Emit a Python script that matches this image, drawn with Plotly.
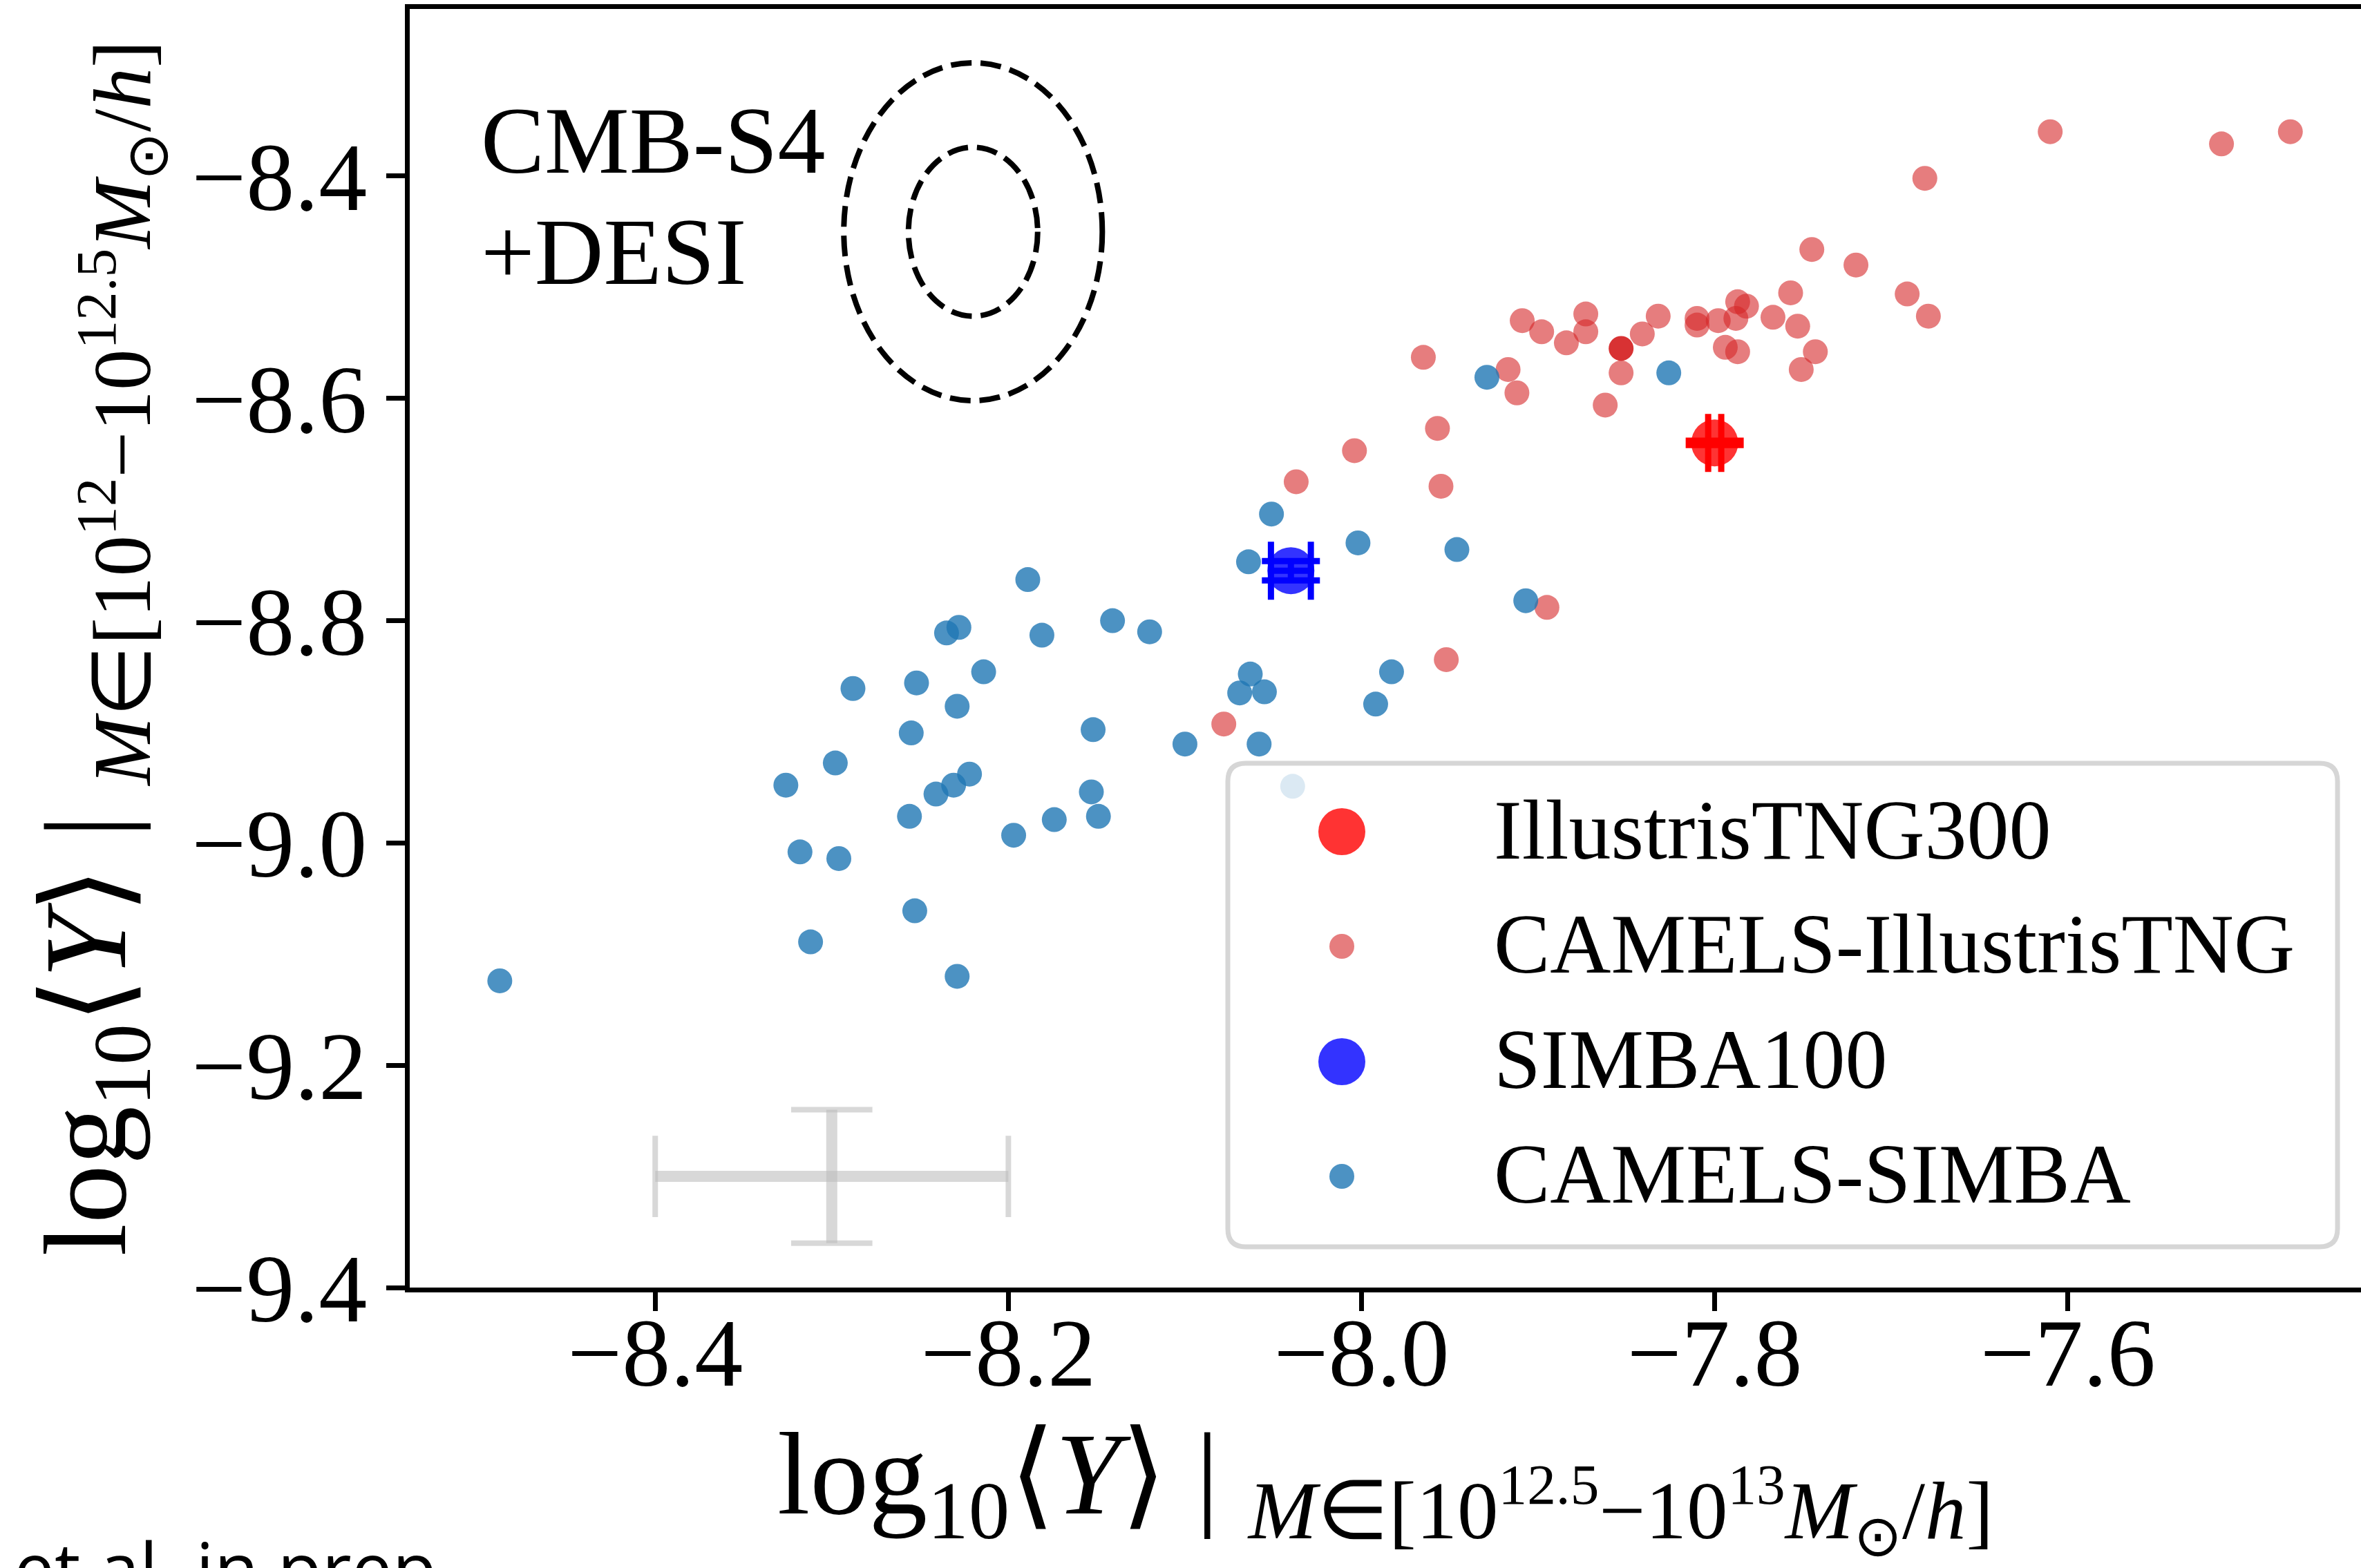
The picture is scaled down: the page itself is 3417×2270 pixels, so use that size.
import plotly.graph_objects as go

# ---------------------------------------------------------------------------
# Data
# ---------------------------------------------------------------------------
series_names = ["IllustrisTNG300", "CAMELS-IllustrisTNG", "SIMBA100", "CAMELS-SIMBA"]

# Large-box reference simulations (value, error)
tng300_x = [-7.800]
tng300_y = [-8.640]
tng300_xerr = [0.0037]
tng300_yerr = [0.002]

simba100_x = [-8.040]
simba100_y = [-8.755]
simba100_xerr = [0.0113]
simba100_yerr = [0.0087]

# CAMELS-IllustrisTNG boxes
camels_tng_x = [-7.965, -7.909, -7.898, -7.884, -7.873, -7.873, -7.841, -7.832, -7.853, -7.862,
                -7.810, -7.810, -7.798, -7.788, -7.787, -7.782, -7.767, -7.757, -7.753, -7.743,
                -7.751, -7.794, -7.787, -7.917, -7.912, -7.957, -8.004, -8.037, -7.955, -7.895,
                -7.952, -8.078, -7.610, -7.513, -7.474, -7.681, -7.745, -7.720, -7.691, -7.679]
camels_tng_y = [-8.563, -8.530, -8.540, -8.550, -8.524, -8.540, -8.542, -8.526, -8.577, -8.606,
                -8.528, -8.534, -8.530, -8.528, -8.513, -8.517, -8.527, -8.505, -8.535, -8.558,
                -8.574, -8.554, -8.558, -8.574, -8.595, -8.627, -8.647, -8.675, -8.679, -8.788,
                -8.835, -8.893, -8.360, -8.371, -8.360, -8.402, -8.466, -8.480, -8.506, -8.526]
# CAMELS-IllustrisTNG fiducial box
camels_tng_fid_x = [-7.853]
camels_tng_fid_y = [-8.555]

# CAMELS-SIMBA boxes
camels_simba_x = [-8.189, -8.235, -8.228, -8.181, -8.141, -8.120, -8.214, -8.288, -8.252, -8.229,
                  -8.255, -8.152, -8.298, -8.326, -8.222, -8.231, -8.241, -8.256, -8.153, -8.174,
                  -8.149, -8.197, -8.318, -8.296, -8.253, -8.312, -8.229, -8.488, -7.929, -7.826,
                  -8.051, -8.064, -8.002, -7.946, -7.907, -8.063, -8.069, -8.055, -7.983, -7.992,
                  -8.100, -8.058, -8.039]
camels_simba_y = [-8.763, -8.811, -8.806, -8.813, -8.800, -8.810, -8.846, -8.861, -8.856, -8.877,
                  -8.901, -8.898, -8.928, -8.948, -8.938, -8.948, -8.956, -8.976, -8.954, -8.979,
                  -8.976, -8.993, -9.008, -9.014, -9.061, -9.089, -9.120, -9.124, -8.581, -8.577,
                  -8.704, -8.747, -8.730, -8.736, -8.782, -8.848, -8.865, -8.864, -8.846, -8.875,
                  -8.911, -8.911, -8.949]

# Typical measurement error
noise_x = [-8.30]
noise_y = [-9.30]
noise_xerr = [0.10]
noise_yerr = [0.06]

# CMB-S4 + DESI forecast ellipse (centre, 1-sigma widths, contour levels)
forecast_center = [-8.22, -8.45]
forecast_sigma = [0.0366, 0.0760]
forecast_levels = [1, 2]

x_ticks = [-8.4, -8.2, -8.0, -7.8, -7.6]
y_ticks = [-9.4, -9.2, -9.0, -8.8, -8.6, -8.4]
x_range = [-8.539, -7.434]
y_range = [-9.4, -8.2496]

# ---------------------------------------------------------------------------
# Styling
# ---------------------------------------------------------------------------
SERIF = "Liberation Serif"
TAB_RED = "rgba(214,39,40,0.6)"
TAB_RED_SOLID = "rgba(214,39,40,0.95)"
TAB_BLUE = "rgba(31,119,180,0.8)"
BIG_RED = "rgba(255,0,0,0.8)"
BIG_BLUE = "rgba(0,0,255,0.8)"
GREY = "rgba(190,190,190,0.6)"
SMALL = 36
BIG = 68
CAP = 42

W, H = 3417, 2270
ML, MR, MT, MB = 593, 0, 13, 406

fig = go.Figure()

# measurement-error cross
fig.add_trace(go.Scatter(
    x=noise_x, y=noise_y, mode="markers",
    marker=dict(size=1, color="rgba(0,0,0,0)"),
    error_x=dict(type="data", array=noise_xerr, thickness=16, width=0, color=GREY),
    error_y=dict(type="data", array=noise_yerr, thickness=16, width=0, color=GREY),
    hoverinfo="skip", showlegend=False))
fig.add_trace(go.Scatter(
    x=[noise_x[0] - noise_xerr[0], noise_x[0] + noise_xerr[0]],
    y=[noise_y[0], noise_y[0]], mode="markers",
    marker=dict(symbol="line-ns", size=2 * CAP, line=dict(width=8, color=GREY)),
    hoverinfo="skip", showlegend=False))
fig.add_trace(go.Scatter(
    x=[noise_x[0], noise_x[0]],
    y=[noise_y[0] - noise_yerr[0], noise_y[0] + noise_yerr[0]], mode="markers",
    marker=dict(symbol="line-ew", size=2 * CAP, line=dict(width=8, color=GREY)),
    hoverinfo="skip", showlegend=False))

# IllustrisTNG300
fig.add_trace(go.Scatter(x=tng300_x, y=tng300_y, mode="markers", name=series_names[0],
                         marker=dict(size=BIG, color=BIG_RED, line=dict(width=0)), showlegend=False))
fig.add_trace(go.Scatter(
    x=tng300_x, y=tng300_y, mode="markers", marker=dict(size=1, color="rgba(0,0,0,0)"),
    error_x=dict(type="data", array=tng300_xerr, thickness=9, width=CAP, color="red"),
    error_y=dict(type="data", array=tng300_yerr, thickness=9, width=CAP, color="red"),
    hoverinfo="skip", showlegend=False))

# CAMELS-IllustrisTNG
fig.add_trace(go.Scatter(x=camels_tng_x, y=camels_tng_y, mode="markers", name=series_names[1],
                         marker=dict(size=SMALL, color=TAB_RED, line=dict(width=0)), showlegend=False))
fig.add_trace(go.Scatter(x=camels_tng_fid_x, y=camels_tng_fid_y, mode="markers",
                         marker=dict(size=SMALL, color=TAB_RED_SOLID, line=dict(width=0)), showlegend=False))

# SIMBA100
fig.add_trace(go.Scatter(x=simba100_x, y=simba100_y, mode="markers", name=series_names[2],
                         marker=dict(size=BIG, color=BIG_BLUE, line=dict(width=0)), showlegend=False))
fig.add_trace(go.Scatter(
    x=simba100_x, y=simba100_y, mode="markers", marker=dict(size=1, color="rgba(0,0,0,0)"),
    error_x=dict(type="data", array=simba100_xerr, thickness=9, width=CAP, color="blue"),
    error_y=dict(type="data", array=simba100_yerr, thickness=9, width=CAP, color="blue"),
    hoverinfo="skip", showlegend=False))

# CAMELS-SIMBA
fig.add_trace(go.Scatter(x=camels_simba_x, y=camels_simba_y, mode="markers", name=series_names[3],
                         marker=dict(size=SMALL, color=TAB_BLUE, line=dict(width=0)), showlegend=False))

# forecast ellipses
shapes = []
for n in forecast_levels:
    shapes.append(dict(
        type="circle", xref="x", yref="y", layer="above",
        x0=forecast_center[0] - n * forecast_sigma[0], x1=forecast_center[0] + n * forecast_sigma[0],
        y0=forecast_center[1] - n * forecast_sigma[1], y1=forecast_center[1] + n * forecast_sigma[1],
        line=dict(color="black", width=8, dash="30px,13px"), fillcolor="rgba(0,0,0,0)"))

# legend: rounded, semi-opaque frame
PW, PH = W - ML - MR, H - MT - MB


def px_x(p):
    return (p - ML) / PW


def px_y(p):
    return (H - MB - p) / PH


lx0, lx1, ly0, ly1 = px_x(1777), px_x(3383), px_y(1805), px_y(1105)
rx, ry = 26 / PW, 26 / PH
path = (f"M {lx0 + rx},{ly0} L {lx1 - rx},{ly0} Q {lx1},{ly0} {lx1},{ly0 + ry} "
        f"L {lx1},{ly1 - ry} Q {lx1},{ly1} {lx1 - rx},{ly1} L {lx0 + rx},{ly1} "
        f"Q {lx0},{ly1} {lx0},{ly1 - ry} L {lx0},{ly0 + ry} Q {lx0},{ly0} {lx0 + rx},{ly0} Z")
shapes.append(dict(type="path", xref="paper", yref="paper", layer="above", path=path,
                   fillcolor="rgba(255,255,255,0.8)", line=dict(color="#d6d6d6", width=7)))

legend_colors = ["#ff3333", "#e67d7e", "#3333ff", "#4c92c3"]
legend_sizes = [BIG, SMALL, BIG, SMALL]
row_marker_y = [1204, 1370, 1537, 1703]
row_text_y = [1201, 1367, 1533, 1699]
annotations = []
for name, col, sz, my, ty in zip(series_names, legend_colors, legend_sizes, row_marker_y, row_text_y):
    shapes.append(dict(type="circle", xref="paper", yref="paper", layer="above",
                       xsizemode="pixel", ysizemode="pixel",
                       xanchor=px_x(1942), yanchor=px_y(my),
                       x0=-sz / 2, x1=sz / 2, y0=-sz / 2, y1=sz / 2,
                       fillcolor=col, line=dict(width=0)))
    annotations.append(dict(text=name, xref="paper", yref="paper", x=px_x(2160), y=px_y(ty),
                            xanchor="left", yanchor="middle", showarrow=False,
                            font=dict(family=SERIF, size=122, color="black")))

# forecast label
annotations.append(dict(text="CMB-S4", xref="paper", yref="paper", x=px_x(694), y=px_y(203),
                        xanchor="left", yanchor="middle", showarrow=False,
                        font=dict(family=SERIF, size=138, color="black")))
annotations.append(dict(text="+DESI", xref="paper", yref="paper", x=px_x(694), y=px_y(364),
                        xanchor="left", yanchor="middle", showarrow=False,
                        font=dict(family=SERIF, size=138, color="black")))
# caption
annotations.append(dict(text="et al. in prep", xref="paper", yref="paper", x=px_x(18), y=px_y(2195),
                        xanchor="left", yanchor="top", showarrow=False,
                        font=dict(family="Open Sans", size=105, color="black")))

x_title = ("log<sub>10</sub>⟨<i>Y</i>⟩ | <sub><i>M</i>∈[10<sup>12.5</sup>−10<sup>13</sup>"
           "<i>M</i><sub>⊙</sub>/<i>h</i>]</sub>")
y_title = ("log<sub>10</sub>⟨<i>Y</i>⟩ | <sub><i>M</i>∈[10<sup>12</sup>−10<sup>12.5</sup>"
           "<i>M</i><sub>⊙</sub>/<i>h</i>]</sub>")

axis_common = dict(showline=True, linewidth=6.5, linecolor="black", ticks="outside",
                   ticklen=27, tickwidth=6.5, tickcolor="black", showgrid=False, zeroline=False,
                   tickformat=".1f", tickfont=dict(family=SERIF, size=140, color="black"))

fig.update_layout(
    width=W, height=H,
    margin=dict(l=ML, r=MR, t=MT, b=MB, autoexpand=False),
    paper_bgcolor="white", plot_bgcolor="white",
    showlegend=False,
    font=dict(family=SERIF, color="black"),
    xaxis=dict(range=x_range, tickvals=x_ticks, mirror=True, ticklabelstandoff=-60,
               title=dict(text=x_title, font=dict(family=SERIF, size=170), standoff=82),
               **axis_common),
    yaxis=dict(range=y_range, tickvals=y_ticks, mirror=False, ticklabelstandoff=0,
               title=dict(text=y_title, font=dict(family=SERIF, size=170), standoff=40),
               **axis_common),
    shapes=shapes,
    annotations=annotations,
)

fig.write_html("out.html")
